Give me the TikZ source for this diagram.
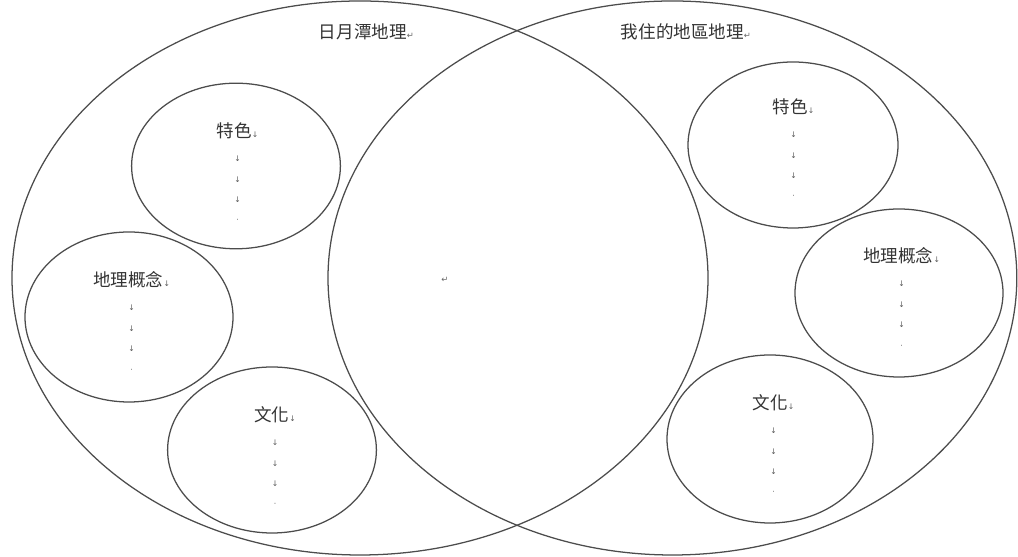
\documentclass[tikz,border=0pt]{standalone}
\usepackage{fontspec}
\newfontfamily\cjk{Noto Sans CJK TC}
\newfontfamily\markfont{DejaVu Sans}
\newcommand{\brk}{{\markfont\fontsize{5.5}{5}\selectfont\color{black!65}↓}}
\newcommand{\ret}{{\markfont\fontsize{6}{6}\selectfont\color{black!60}↵}}
\newcommand{\fin}{{\markfont\fontsize{5.5}{5}\selectfont\color{black!60}·}}
\tikzset{
  ring/.style={draw=black!70, line width=0.9pt},
  lbl/.style={font=\cjk\fontsize{12.5}{14.5}\selectfont, text=black!80, align=center, inner sep=0pt},
}
\begin{document}
\begin{tikzpicture}
                \useasboundingbox (0,0) rectangle (25.45,13.925);
                \draw[ring] (9.0,6.975) ellipse (8.7 and 6.925);
                \draw[ring] (16.81,6.975) ellipse (8.61 and 6.925);
                \draw[ring] (5.9,9.775) ellipse (2.61 and 2.07);
                \draw[ring] (3.225,6.0) ellipse (2.6 and 2.125);
                \draw[ring] (6.8,2.675) ellipse (2.61 and 2.075);
                \draw[ring] (19.825,10.3) ellipse (2.625 and 2.075);
                \draw[ring] (22.475,6.6) ellipse (2.6 and 2.1);
                \draw[ring] (19.25,2.95) ellipse (2.575 and 2.1);
                \node[lbl, anchor=base] (titleL) at (9.16,12.96) {日月潭地理\ret};
                \node[lbl, anchor=base] (titleR) at (17.15,12.96) {我住的地區地理\ret};
                \node[lbl, anchor=north] (featL) at (5.94,10.875) {特色\brk\\[3pt] \brk\\ \brk\\ \brk\\ \fin};
                \node[lbl, anchor=north] (ideaL) at (3.29,7.15) {地理概念\brk\\[3pt] \brk\\ \brk\\ \brk\\ \fin};
                \node[lbl, anchor=north] (cultL) at (6.875,3.775) {文化\brk\\[3pt] \brk\\ \brk\\ \brk\\ \fin};
                \node[lbl, anchor=north] (featR) at (19.84,11.475) {特色\brk\\[3pt] \brk\\ \brk\\ \brk\\ \fin};
                \node[lbl, anchor=north] (ideaR) at (22.54,7.75) {地理概念\brk\\[3pt] \brk\\ \brk\\ \brk\\ \fin};
                \node[lbl, anchor=north] (cultR) at (19.34,4.075) {文化\brk\\[3pt] \brk\\ \brk\\ \brk\\ \fin};
                \node[lbl] (mid) at (11.125,6.925) {\ret};
            \end{tikzpicture}
\end{document}
